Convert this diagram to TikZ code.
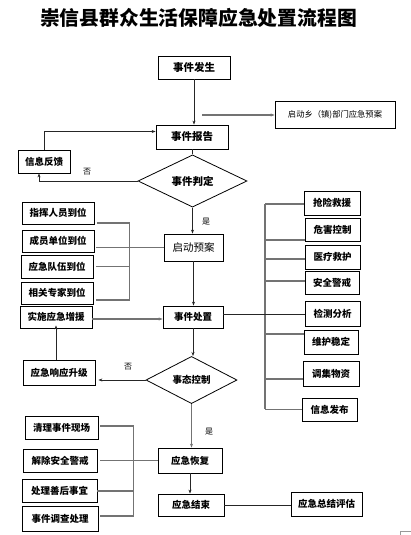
\documentclass[tikz,border=0pt]{standalone}
\usepackage{fontspec}
\setmainfont{Noto Sans CJK SC}
\usetikzlibrary{shapes.geometric,arrows.meta,calc}
\begin{document}
\begin{tikzpicture}[x=1pt,y=-1pt,
  box/.style={draw=black,line width=0.8pt,inner sep=0pt,font=\fontsize{9.5}{10}\selectfont\bfseries},
  rbox/.style={box,font=\fontsize{10.5}{11}\selectfont},
  dia/.style={diamond,draw=black,line width=0.8pt,inner sep=0pt,font=\fontsize{9.5}{10}\selectfont\bfseries},
  dk/.style={draw=black!85,line width=0.8pt},
  gl/.style={draw=black!55,line width=1.3pt},
  arr/.style={-{Stealth[length=4pt,width=3pt]}},
  lab/.style={font=\fontsize{8}{8}\selectfont,inner sep=0pt}
]
\useasboundingbox[fill=white] (0,0) rectangle (411,535);

\node[font=\fontsize{19.8}{20}\selectfont\bfseries] (title) at (198.5,18) {崇信县群众生活保障应急处置流程图};

% main column
\node[box,minimum width=72pt,minimum height=23pt,font=\fontsize{10.5}{11}\selectfont\bfseries] (fs) at (194,67.5) {事件发生};
\node[box,minimum width=72pt,minimum height=24pt,font=\fontsize{10.5}{11}\selectfont\bfseries] (bg) at (192,137) {事件报告};
\node[rbox,minimum width=120pt,minimum height=27pt,font=\fontsize{8.3}{9}\selectfont] (xz) at (335,114.5) {启动乡（镇)部门应急预案};
\node[box,minimum width=52pt,minimum height=23pt] (fk) at (44,161.5) {信息反馈};
\node[dia,minimum width=109pt,minimum height=40pt,font=\fontsize{10.5}{11}\selectfont\bfseries] (pd) at (192.5,181) {事件判定};
\node[rbox,minimum width=59pt,minimum height=27pt] (qd) at (193.5,247.5) {启动预案};

\node[box,minimum width=72pt,minimum height=22pt] (a1) at (58,213) {指挥人员到位};
\node[box,minimum width=72pt,minimum height=22pt] (a2) at (58,241) {成员单位到位};
\node[box,minimum width=72pt,minimum height=23pt] (a3) at (57,266.5) {应急队伍到位};
\node[box,minimum width=72pt,minimum height=22pt] (a4) at (57,293) {相关专家到位};
\node[box,minimum width=72pt,minimum height=22pt] (zy) at (56,317) {实施应急增援};
\node[box,minimum width=60pt,minimum height=22pt] (cz) at (193,317) {事件处置};

\node[box,minimum width=56pt,minimum height=24pt] (r1) at (332,203) {抢险救援};
\node[box,minimum width=55pt,minimum height=23pt] (r2) at (332.5,229.5) {危害控制};
\node[box,minimum width=55pt,minimum height=24pt] (r3) at (332.5,257) {医疗救护};
\node[box,minimum width=54pt,minimum height=23pt] (r4) at (332,282.5) {安全警戒};
\node[box,minimum width=55pt,minimum height=25pt] (r5) at (332.5,313.5) {检测分析};
\node[box,minimum width=54pt,minimum height=24pt] (r6) at (331,342) {维护稳定};
\node[box,minimum width=56pt,minimum height=25pt] (r7) at (331,373.5) {调集物资};
\node[box,minimum width=55pt,minimum height=23pt] (r8) at (329.5,409.5) {信息发布};

\node[dia,minimum width=91pt,minimum height=36pt] (pd2) at (191.5,380) {事态控制};
\node[box,minimum width=72pt,minimum height=25pt] (sj) at (59,372.5) {应急响应升级};
\node[box,minimum width=64pt,minimum height=25pt] (hf) at (190,460.5) {应急恢复};
\node[box,minimum width=66pt,minimum height=22pt] (js) at (191,505) {应急结束};
\node[box,minimum width=71pt,minimum height=24pt] (pg) at (326.5,504) {应急总结评估};

\node[box,minimum width=73pt,minimum height=23pt] (b1) at (61.5,427.5) {清理事件现场};
\node[box,minimum width=74pt,minimum height=23pt] (b2) at (60,460.5) {解除安全警戒};
\node[box,minimum width=75pt,minimum height=23pt] (b3) at (59.5,490.5) {处理善后事宜};
\node[box,minimum width=76pt,minimum height=25pt] (b4) at (60,518.5) {事件调查处理};

% connectors top
\draw[dk,arr] (fs.south) -- (fs.south |- bg.north);
\coordinate (xzs) at (202,115);
\draw[gl,arr] (xzs) -- (xzs -| xz.west);
\draw[dk,arr] (fk.north) |- ([yshift=5.5pt]bg.west);
\draw[dk] (bg.south) -- (bg.south |- pd.north);
\draw[dk,arr] (pd.west) -| ([xshift=-5pt]fk.south);
\node[lab] (no1) at (87,172) {否};
\draw[dk,arr] (pd.south) -- (pd.south |- qd.north);
\node[lab] (yes1) at (206,222) {是};

% left bracket
\draw[gl] ($(a1.east)+(3,10)$) -| ($(a4.east)+(36,7)$) -- ($(a4.east)+(3,7)$);
\draw[gl] ([xshift=2pt]a2.east |- qd.west) -- (qd.west);
\draw[gl] ($(a3.east)+(3,0)$) -- ($(a3.east)+(36,0)$);
\draw[gl,arr] ([yshift=-2pt]zy.east) -- ([yshift=-2pt]cz.west);
\draw[dk,arr] (qd.south) -- (qd.south |- cz.north);

% right spine
\coordinate (spT) at (265,204);
\coordinate (spB) at (265,409);
\draw[gl] (spT) -- (spB);
\draw[gl] ([yshift=-1pt]r1.west) -- ([yshift=-1pt]r1.west -| spT);
\draw[gl] ([yshift=-10.5pt]r2.west) -- ([yshift=-10.5pt]r2.west -| spT);
\draw[gl] ([yshift=-2pt]r3.west) -- ([yshift=-2pt]r3.west -| spT);
\draw[gl] ([yshift=1.5pt]r4.west) -- ([yshift=1.5pt]r4.west -| spT);
\draw[gl] ([yshift=8pt]r6.west) -- ([yshift=8pt]r6.west -| spT);
\draw[gl] ([yshift=-5.5pt]r7.west) -- ([yshift=-5.5pt]r7.west -| spT);
\draw[gl] (r8.west) -- (r8.west -| spT);
\draw[dk] ([yshift=3pt]cz.east) -- ([yshift=3pt]cz.east -| r5.west);

% lower part
\draw[dk,arr] (cz.south) -- (cz.south |- pd2.north);
\draw[dk,arr] (pd2.west) -- ([xshift=3pt]sj.east |- pd2.west);
\node[lab] (no2) at (128,367) {否};
\draw[dk,arr] (zy.south |- sj.north) -- ([yshift=3pt]zy.south);
\draw[gl,arr] (pd2.south) -- (pd2.south |- hf.north);
\node[lab] (yes2) at (209,432) {是};
\draw[dk,arr] (hf.south) -- (hf.south |- js.north);
\draw[dk] (js.east) -- (js.east -| pg.west);

% bottom bracket
\draw[gl] ($(b1.east)+(2,-1.5)$) -| ($(b4.east)+(35,-2.5)$) -- ($(b4.east)+(2,-2.5)$);
\draw[gl] ([xshift=3pt]b2.east |- hf.west) -- (hf.west);
\draw[gl] ($(b3.east)+(0,0.5)$) -- ($(b3.east)+(36,0.5)$);

% corner mark
\coordinate (cm) at (400,531);
\draw[draw=black!40,line width=0.6pt] (400,535) -- (cm) -- (411,531);
\end{tikzpicture}
\end{document}
